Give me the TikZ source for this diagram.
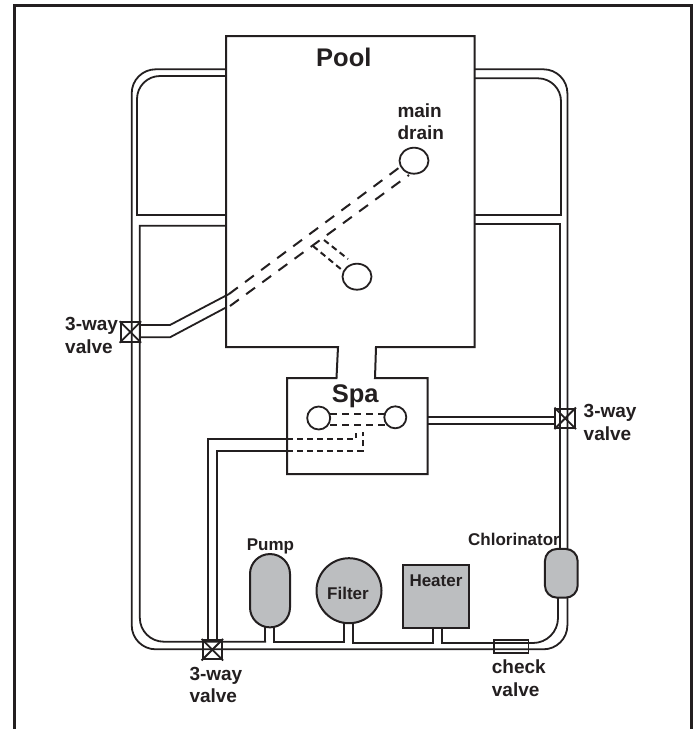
\documentclass[tikz,border=0pt]{standalone}
\usepackage{fontspec}
\setmainfont{Liberation Sans}
\usetikzlibrary{shapes.geometric,shapes.misc}
\definecolor{ink}{HTML}{231F20}
\definecolor{unitgrey}{HTML}{BCBEC0}
\tikzset{
  pipe/.style={draw=ink,line width=1.8pt,line cap=butt,line join=miter},
  wall/.style={draw=ink,line width=2pt,line join=miter},
  frameline/.style={draw=ink,line width=2.6pt},
  longdash/.style={pipe,line width=2pt,dash pattern=on 11pt off 9pt},
  middash/.style={pipe,line width=2pt,dash pattern=on 7pt off 5pt},
  shortdash/.style={pipe,line width=2pt,dash pattern=on 6pt off 4pt},
  drain/.style={ellipse,draw=ink,line width=1.8pt,fill=white,inner sep=0pt},
  valvebox/.style={rectangle,draw=ink,line width=2pt,inner sep=0pt,minimum width=19.5pt,minimum height=19.5pt},
  unit/.style={draw=ink,line width=2pt,fill=unitgrey},
  lab/.style={font=\fontsize{17}{23}\selectfont\bfseries,text=ink,inner sep=0pt,anchor=base west},
  labwide/.style={lab,font=\fontsize{19}{22}\selectfont\bfseries},
  biglab/.style={font=\fontsize{25.5}{26}\selectfont\bfseries,text=ink,inner sep=0pt,anchor=base west}
}
\begin{document}
\begin{tikzpicture}[x=1pt,y=-1pt]
\useasboundingbox (0,0) rectangle (694,729);
\fill[white] (0,0) rectangle (694,729);
% frame
\draw[frameline] (14.5,729) -- (14.5,5.5) -- (691.5,5.5) -- (691.5,729);
% pipework: outer loop
\draw[pipe] (226,69.3) [rounded corners=24pt] -- (131.7,69.3) -- (131.7,649.3) -- (567.4,649.3) -- (567.4,597.7);
\draw[pipe] (474.5,69.3) [rounded corners=24pt] -- (567.4,69.3) -- (567.4,549);
% inner upper pipes
\draw[pipe] (226,215) -- (137,215) [rounded corners=23pt] -- (137,76) -- (226,76);
\draw[pipe] (474.5,215) -- (561,215) [rounded corners=23pt] -- (561,78.3) -- (474.5,78.3);
% inner lower pipes
\draw[pipe] (226,225.7) -- (139.8,225.7) [rounded corners=24pt] -- (139.8,641.7) -- (266.2,641.7);
\draw[pipe] (265.3,641.7) -- (265.3,627);
\draw[pipe] (474.5,224.3) -- (560,224.3) -- (560,549);
% links between units
\draw[pipe] (274,627) -- (274,641.7) -- (344,641.7) -- (344,622);
\draw[pipe] (353,622) -- (353,643) -- (432.7,643) -- (432.7,628.7);
\draw[pipe] (442,628.7) -- (442,643) [rounded corners=25pt] -- (558,643) -- (558,597.7);
% spa return pipes
\draw[pipe] (287,439.3) -- (208.3,439.3) -- (208.3,640);
\draw[pipe] (287,450.7) -- (217.3,450.7) -- (217.3,640);
\draw[shortdash] (287,439.3) -- (355.7,439.3) -- (355.7,433);
\draw[shortdash] (287,450.7) -- (362.7,450.7) -- (362.7,431.7);
% spa to right valve
\draw[pipe] (427.5,417) -- (555,417);
\draw[pipe] (427.5,424) -- (555,424);
% left valve branch
\draw[pipe] (140,325) -- (170,325) -- (229,294);
\draw[pipe] (140,337.3) -- (170,337.3) -- (226,307.5);
% pool drains piping
\draw[longdash] (229,294) -- (400,167);
\draw[longdash] (230,306) -- (409,175);
\draw[shortdash] (324,240) -- (348,259);
\draw[shortdash] (313,246) -- (342,270);
% spa drain piping
\draw[middash] (330,414.3) -- (385,414.3);
\draw[middash] (330,425) -- (385,425);
% pool and spa outline
\draw[wall] (226,36) -- (474.5,36) -- (474.5,347) -- (376,347) -- (375,378) -- (427.5,378) -- (427.5,474) -- (287,474) -- (287,378) -- (336.5,378) -- (338,347) -- (226,347) -- cycle;
% drains
\node[drain,minimum width=29pt,minimum height=26pt] (maindrain) at (414,160.7) {};
\node[drain,minimum width=29pt,minimum height=26pt] (pooldrain) at (357,276.7) {};
\node[drain,minimum width=23pt,minimum height=23pt] (spadrainL) at (318.7,418) {};
\node[drain,minimum width=22pt,minimum height=22pt] (spadrainR) at (395.3,417.3) {};
% valves
\node[valvebox] (leftvalve) at (130.3,332) {};
\draw[pipe] (leftvalve.north west) -- (leftvalve.south east) (leftvalve.north east) -- (leftvalve.south west);
\node[valvebox] (rightvalve) at (565.2,418.3) {};
\draw[pipe] (rightvalve.north west) -- (rightvalve.south east) (rightvalve.north east) -- (rightvalve.south west);
\node[valvebox] (bottomvalve) at (212.3,649.7) {};
\draw[pipe] (bottomvalve.north west) -- (bottomvalve.south east) (bottomvalve.north east) -- (bottomvalve.south west);
\node[rectangle,draw=ink,line width=1.7pt,inner sep=0pt,minimum width=34.5pt,minimum height=13pt] (checkvalve) at (511.2,646.5) {};
% units
\node[unit,rectangle,rounded corners=19.9pt,minimum width=40pt,minimum height=73.3pt,inner sep=0pt] (pump) at (270,590.7) {};
\node[unit,circle,minimum size=65pt,inner sep=0pt] (filter) at (349,590.7) {};
\node[unit,rectangle,minimum width=66.3pt,minimum height=63.6pt,inner sep=0pt] (heater) at (435.8,596.5) {};
\node[unit,rectangle,rounded corners=12pt,minimum width=32.7pt,minimum height=48.7pt,inner sep=0pt] (chlorinator) at (561.3,573.3) {};
% labels
\node[biglab] (poolL) at (316,66) {Pool};
\node[biglab] (spaL) at (331.7,402.3) {Spa};
\node[labwide] (mainL) at (397.3,117.3) {main};
\node[labwide] (drainL) at (397.3,139.3) {drain};
\node[labwide] (lvA) at (65,330) {3-way};
\node[labwide] (lvB) at (65,353) {valve};
\node[labwide] (rvA) at (583.5,417.3) {3-way};
\node[labwide] (rvB) at (583.5,440.7) {valve};
\node[labwide] (bvA) at (189.3,680) {3-way};
\node[labwide] (bvB) at (189.3,702.7) {valve};
\node[labwide] (cvA) at (491.7,673.3) {check};
\node[labwide] (cvB) at (491.7,696.7) {valve};
\node[lab] (pumpL) at (246.7,550.7) {Pump};
\node[lab] (chlorL) at (468,545.7) {Chlorinator};
\node[lab] (heaterL) at (409.3,586) {Heater};
\node[lab] (filterL) at (327,599.3) {Filter};
\end{tikzpicture}
\end{document}
